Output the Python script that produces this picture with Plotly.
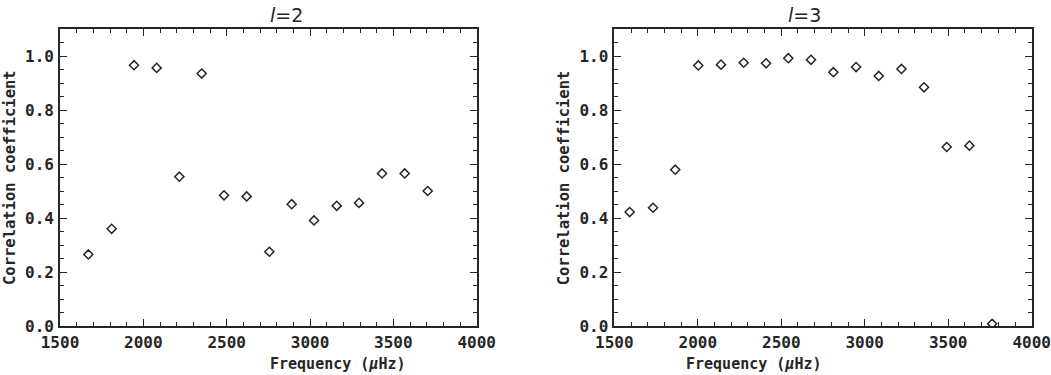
import plotly.graph_objects as go

freq_l2 = [1670, 1810, 1944, 2080, 2216, 2350, 2484, 2620, 2756, 2890, 3024, 3160, 3294, 3432, 3568, 3706]
corr_l2 = [0.265, 0.36, 0.966, 0.956, 0.553, 0.935, 0.484, 0.48, 0.275, 0.451, 0.391, 0.445, 0.456, 0.565, 0.565, 0.50]

freq_l3 = [1592, 1732, 1865, 2003, 2139, 2275, 2409, 2542, 2678, 2812, 2948, 3084, 3220, 3355, 3491, 3627, 3763]
corr_l3 = [0.422, 0.438, 0.579, 0.965, 0.968, 0.975, 0.973, 0.992, 0.986, 0.94, 0.959, 0.926, 0.952, 0.884, 0.663, 0.668, 0.008]

titles = ["<i>l</i>=2", "<i>l</i>=3"]
xtitle = "<b>Frequency (<i>μ</i>Hz)</b>"
ytitle = "<b>Correlation coefficient</b>"

FONT = "DejaVu Sans Mono"
INK = "#262626"
W, H = 1051, 375

fig = go.Figure()
marker = dict(symbol="diamond-open", size=7, color=INK, line=dict(width=1.5, color=INK))
fig.add_trace(go.Scatter(x=freq_l2, y=corr_l2, mode="markers", marker=marker, xaxis="x", yaxis="y", cliponaxis=True))
fig.add_trace(go.Scatter(x=freq_l3, y=corr_l3, mode="markers", marker=marker, xaxis="x2", yaxis="y2", cliponaxis=True))

tickfont = dict(family=FONT, size=16, color=INK, weight="bold")

def xax(dom, anchor):
    return dict(domain=dom, anchor=anchor, range=[1500, 4000], dtick=500, tick0=1500,
                ticks="inside", ticklen=7, tickwidth=1.3, tickcolor=INK,
                minor=dict(dtick=100, ticks="inside", ticklen=4, tickwidth=1.1, tickcolor=INK),
                showline=True, linecolor=INK, linewidth=1.6, mirror="allticks",
                showgrid=False, zeroline=False, ticklabelstandoff=1, automargin=False,
                tickfont=tickfont)

def yax(dom, anchor):
    return dict(domain=dom, anchor=anchor, range=[0, 1.1], dtick=0.2, tick0=0, tickformat=".1f",
                ticks="inside", ticklen=7, tickwidth=1.3, tickcolor=INK,
                minor=dict(dtick=0.05, ticks="inside", ticklen=4, tickwidth=1.1, tickcolor=INK),
                showline=True, linecolor=INK, linewidth=1.6, mirror="allticks",
                showgrid=False, zeroline=False, ticklabelstandoff=1, automargin=False,
                tickfont=tickfont)

ydom = [49 / H, 346 / H]
xd1 = [60 / W, 476.7 / W]
xd2 = [614.3 / W, 1031.7 / W]

ann = []
for i, xd in enumerate([xd1, xd2]):
    cx = (xd[0] + xd[1]) / 2
    ann.append(dict(text=titles[i], x=cx, y=1 - 15 / H, xref="paper", yref="paper",
                    showarrow=False, font=dict(family="DejaVu Sans", size=19, color=INK), yanchor="middle"))
    ann.append(dict(text=xtitle, x=cx, y=1 - 364 / H, xref="paper", yref="paper",
                    showarrow=False, font=dict(family=FONT, size=15, color=INK), yanchor="middle"))
    ann.append(dict(text=ytitle, x=xd[0] - 50 / W, y=1 - 178 / H, xref="paper", yref="paper",
                    showarrow=False, textangle=-90, font=dict(family=FONT, size=15.5, color=INK),
                    xanchor="center", yanchor="middle"))

fig.update_layout(
    width=W, height=H, margin=dict(l=0, r=0, t=0, b=0, autoexpand=False),
    paper_bgcolor="white", plot_bgcolor="white", showlegend=False,
    xaxis=xax(xd1, "y"), yaxis=yax(ydom, "x"),
    xaxis2=xax(xd2, "y2"), yaxis2=yax(ydom, "x2"),
    annotations=ann,
)

fig.write_html("out.html")
